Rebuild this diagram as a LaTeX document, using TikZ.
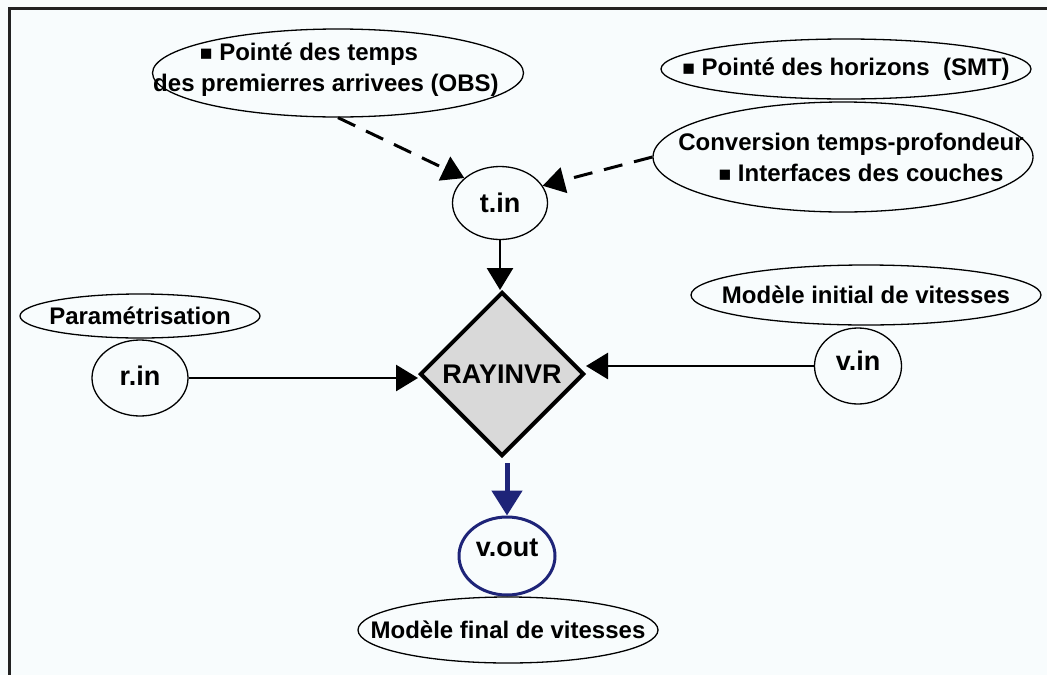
\documentclass[tikz,border=0pt]{standalone}
\usepackage{fontspec}
\setmainfont{Liberation Sans}
\usetikzlibrary{shapes.geometric,arrows.meta}
\definecolor{bg}{RGB}{248,252,253}
\definecolor{navy}{RGB}{30,36,120}
\definecolor{diagray}{RGB}{217,217,217}
\definecolor{frame}{RGB}{34,34,34}
\newcommand{\sqbul}{{\fontsize{21}{21}\selectfont ■}}
\tikzset{
  oval/.style={ellipse, draw=black, line width=1.3pt, fill=bg, inner sep=0pt},
  lbl/.style={font=\bfseries\fontsize{24}{31}\selectfont, align=center, inner sep=0pt},
  small/.style={font=\bfseries\fontsize{27}{30}\selectfont, inner sep=0pt},
  conn/.style={draw=black, line width=2.8pt, -{Triangle[length=22pt,width=26pt]}},
  dconn/.style={conn, line width=3pt, dash pattern=on 19pt off 12pt},
  bconn/.style={draw=navy, line width=5pt, -{Triangle[length=25pt,width=30pt]}},
}
\begin{document}
\begin{tikzpicture}[x=1pt,y=-1pt]
\useasboundingbox (0,0) rectangle (1047,675);
\fill[bg] (0,0) rectangle (1047,675);
\fill[frame] (8,7) rectangle (11,675);
\fill[frame] (8,7) rectangle (1047,10);

% nodes
\node[oval, minimum width=371pt, minimum height=88pt,
  label={[lbl, xshift=-12pt, yshift=3pt]center:{\sqbul\ Pointé des temps\hspace*{34pt}\\des premierres arrivees (OBS)}}] (obs) at (338,73) {};
\node[oval, minimum width=370pt, minimum height=60pt,
  label={[lbl]center:{\sqbul\ Pointé des horizons\ \ (SMT)}}] (smt) at (846,69) {};
\node[oval, minimum width=380pt, minimum height=110pt,
  label={[lbl, xshift=8pt]center:{Conversion temps-profondeur\\\hspace*{20pt}\sqbul\ Interfaces des couches}}] (conv) at (843,157) {};
\node[oval, minimum width=95pt, minimum height=73pt,
  label={[small]center:{t.in}}] (tin) at (500,203) {};
\node[diamond, draw=black, line width=4pt, fill=diagray, minimum width=164pt, minimum height=164pt, inner sep=0pt,
  label={[small]center:{RAYINVR}}] (ray) at (502,374) {};
\node[oval, minimum width=240pt, minimum height=44pt,
  label={[lbl]center:{Paramétrisation}}] (param) at (140,316) {};
\node[oval, minimum width=96pt, minimum height=76pt,
  label={[small, yshift=2pt]center:{r.in}}] (rin) at (140,378) {};
\node[oval, minimum width=350pt, minimum height=60pt,
  label={[lbl]center:{Modèle initial de vitesses}}] (minit) at (866,295) {};
\node[oval, minimum width=87pt, minimum height=76pt,
  label={[small, yshift=5pt]center:{v.in}}] (vin) at (858,366) {};
\node[ellipse, draw=navy, line width=3pt, fill=bg, inner sep=0pt, minimum width=96pt, minimum height=78pt,
  label={[small, yshift=8pt]center:{v.out}}] (vout) at (507,556) {};
\node[oval, minimum width=300pt, minimum height=66pt,
  label={[lbl]center:{Modèle final de vitesses}}] (mfinal) at (508,630) {};

% connectors
\draw[dconn] (obs.south) -- (tin.145);
\draw[dconn] (conv.west) -- (tin.22);
\draw[conn] (tin.south) -- (tin.south |- ray.north);
\draw[conn] (rin.east) -- (rin.east -| ray.west);
\draw[conn] (vin.west) -- (vin.west -| ray.east);
\draw[bconn, shorten <=5pt] (vout.north |- ray.south) -- (vout.north);
\end{tikzpicture}
\end{document}
